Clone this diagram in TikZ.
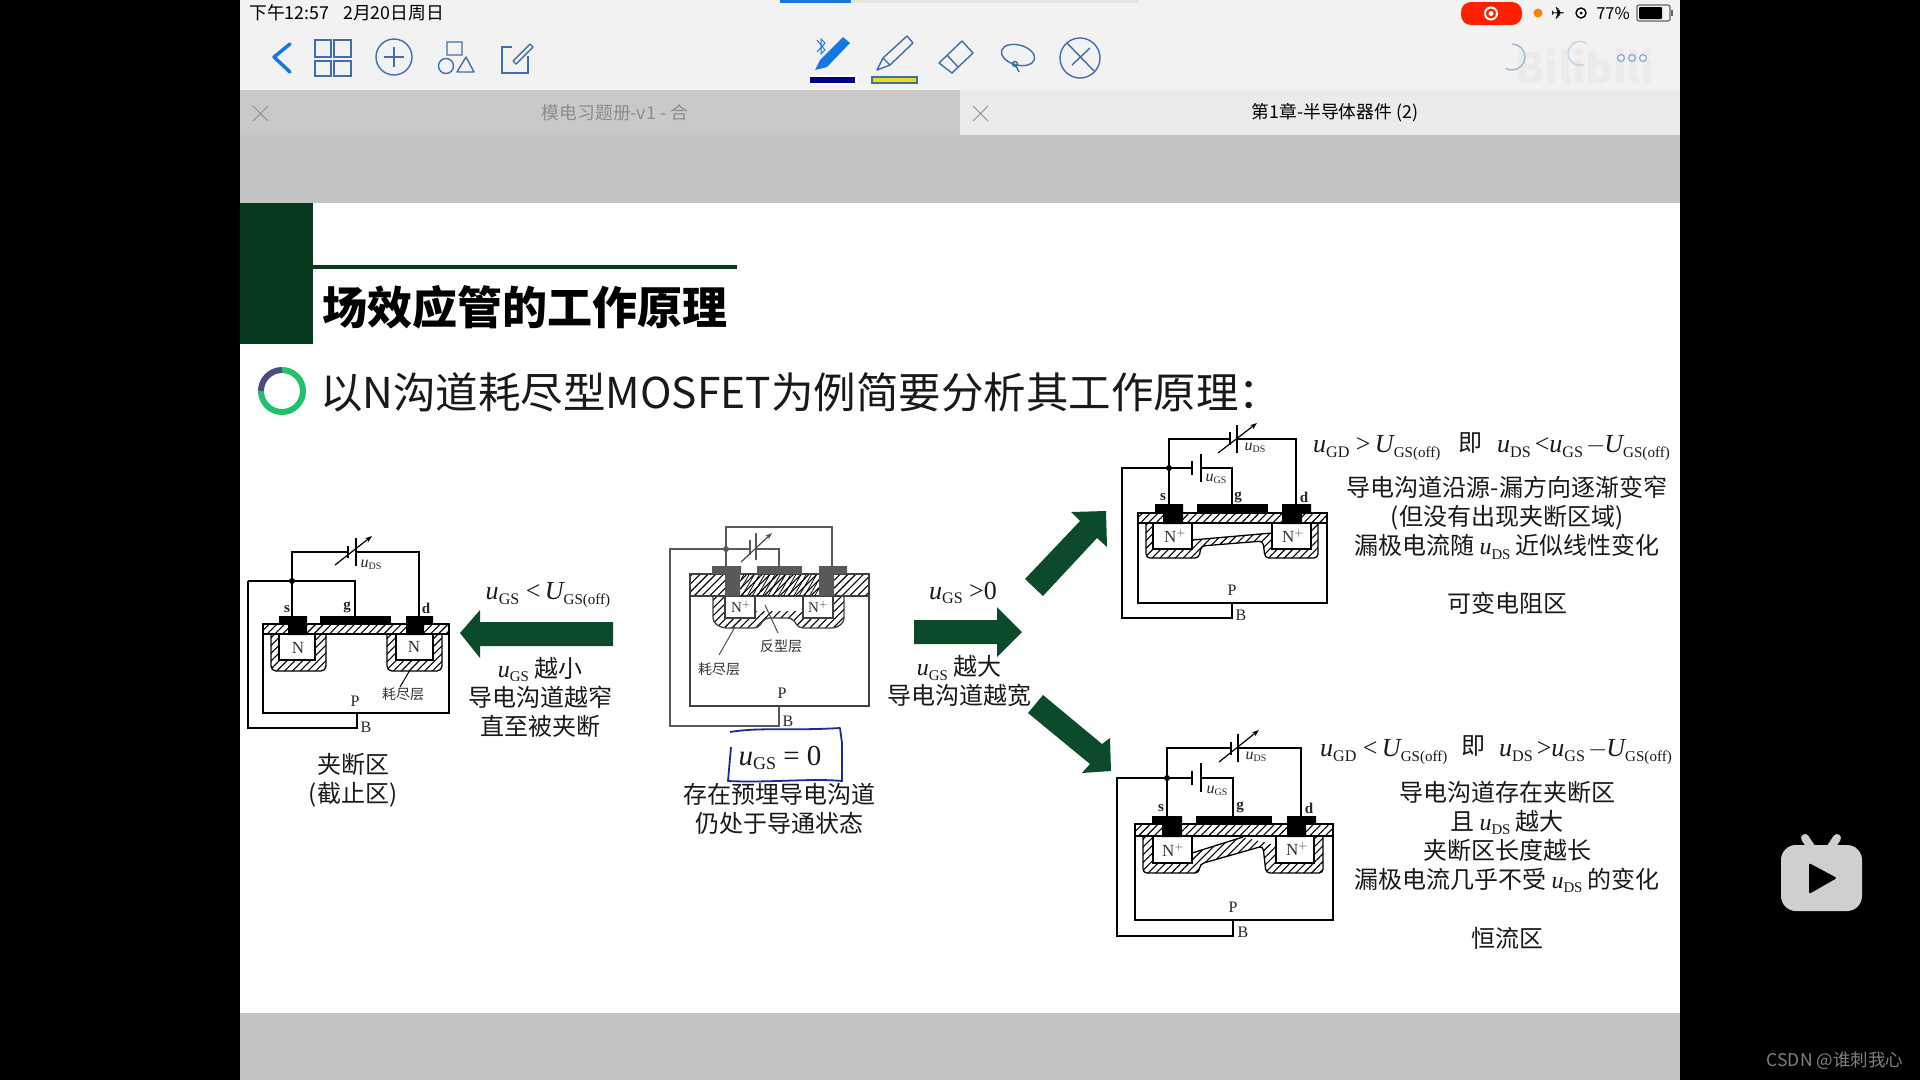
\documentclass[tikz,border=0pt]{standalone}
\usepackage{fontspec}
\setmainfont{Noto Sans CJK SC}
\newfontfamily\devfont{Liberation Serif}
\newfontfamily\symfont{DejaVu Sans}
\usetikzlibrary{patterns.meta,arrows.meta}
\definecolor{slidegreen}{HTML}{0B4A2B}
\definecolor{blockgreen}{HTML}{063A1E}
\definecolor{ringgreen}{HTML}{22C06A}
\definecolor{iconblue}{HTML}{3F6EA8}
\definecolor{penblue}{HTML}{1677E0}
\definecolor{inknavy}{HTML}{1A2A9A}
\newcommand{\usub}[2]{{\devfont\itshape #1}\raisebox{-.35ex}{\scalebox{.62}{\devfont #2}}}
\newcommand{\bigU}{{\devfont\itshape U}\raisebox{-.35ex}{\scalebox{.58}{\devfont GS(off)}}}
\tikzset{
  wire/.style={line width=1.3pt, line join=miter},
  greywire/.style={line width=1.3pt, draw=black!65},
  plate/.style={line width=1.3pt},
  metal/.style={fill=black},
  hatchfill/.style={pattern={Lines[angle=45,distance=5.5pt,line width=1.1pt]}, draw=black, line width=1.3pt},
  boxfill/.style={fill=white, draw=black, line width=1.3pt},
  tunearrow/.style={-{Stealth[length=7pt,width=5pt]}, line width=1.2pt},
  bigarrow/.style={fill=slidegreen},
  icon/.style={draw=iconblue, line width=1.4pt},
  devtext/.style={font=\devfont\bfseries\fontsize{15}{17}\selectfont, inner sep=0pt, text=black!85},
  pbtext/.style={font=\devfont\fontsize{16}{18}\selectfont, inner sep=0pt, text=black!85},
  usmall/.style={font=\devfont\fontsize{16}{18}\selectfont, inner sep=0pt, text=black!85},
  nplus/.style={font=\devfont\fontsize{17}{20}\selectfont, inner sep=0pt, text=black!80},
  cjksmall/.style={font=\fontsize{14}{16}\selectfont, inner sep=0pt, text=black!80},
  bodytext/.style={font=\fontsize{24}{29}\selectfont, align=center, inner sep=0pt, text=black!90},
  formula/.style={font=\devfont\fontsize{26}{30}\selectfont, inner sep=0pt, text=black!90},
  tabtext/.style={font=\fontsize{17.8}{20}\selectfont, inner sep=0pt},
}
\begin{document}
\begin{tikzpicture}[x=1pt, y=-1pt]
\useasboundingbox (0,0) rectangle (1920,1080);
% screen
\fill[black] (0,0) rectangle (1920,1080);
\fill[black!5] (240,0) rectangle (1680,90);
\fill[black!21] (240,90) rectangle (960,135);
\fill[black!8] (960,90) rectangle (1680,135);
\fill[black!23] (240,135) rectangle (1680,1080);
\fill[white] (240,203) rectangle (1680,1013);
% status bar
\fill[black!10] (851,0) rectangle (1139,3);
\fill[penblue] (780,0) rectangle (851,3);
\node[tabtext, anchor=west] (clock) at (249,13) {下午12:57\hspace{14pt}2月20日周日};
\fill[red!75!orange, rounded corners=10pt] (1461,2) rectangle (1522,25);
\draw[white, line width=2pt] (1491,13.5) circle (6);
\fill[white] (1491,13.5) circle (2.5);
\fill[orange] (1538,13) circle (4.5);
\node[tabtext, font=\symfont\fontsize{17}{20}\selectfont] (plane) at (1558,13) {✈};
\draw[line width=1.4pt] (1581,13) circle (5);
\fill (1581,13) circle (1.5);
\node[tabtext, font=\fontsize{16.5}{20}\selectfont] (percent) at (1613,13) {77\%};
\draw[black!60, line width=1.2pt, rounded corners=2pt] (1637,5) rectangle (1670,21);
\fill[black, rounded corners=1pt] (1639,7) rectangle (1662,19);
\fill[black!60] (1671,10) rectangle (1673,16);
% tool bar
\draw[penblue, line width=3.5pt, line cap=round, line join=round] (290,44) -- (274,57) -- (290,72);
\foreach \gx/\gy/\hx/\hy in {315/40/331/57, 334/40/351/57, 315/61/331/76, 334/61/351/76}
  \draw[icon] (\gx,\gy) rectangle (\hx,\hy);
\draw[icon] (394,57) circle (18);
\draw[icon] (384,57) -- (404,57) (394,47) -- (394,67);
\draw[icon] (447,42) rectangle (462,55) (446,66) circle (7.5);
\draw[icon, line join=round] (457,72) -- (474,72) -- (466,57) -- cycle;
\draw[icon] (512,47) -- (502,47) -- (502,73) -- (528,73) -- (528,56);
\draw[icon, line join=round] (513,61) -- (530,44) -- (533,47) -- (516,64) -- cycle;
\fill[penblue] (815,70) -- (820,60) -- (843,37) -- (850,43) -- (827,67) -- cycle;
\draw[penblue, line width=1pt] (817,40) -- (825,50) -- (821,54) -- (821,39) -- (825,43) -- (817,52);
\fill[white] (809,75) rectangle (857,85);
\fill[blue!55!black] (810,77) rectangle (855,83);
\draw[icon, line join=round] (907,36) -- (913,43) -- (890,65) -- (883,58) -- cycle (883,58) -- (877,70) -- (890,65);
\draw[icon, fill=yellow!90!black] (872,77) rectangle (917,83);
\draw[icon, line join=round] (962,41) -- (973,53) -- (952,73) -- (939,63) -- cycle (947,55) -- (958,67);
\draw[icon, rotate around={-15:(1018,55)}] (1018,55) ellipse (17 and 10);
\draw[icon] (1015,64) circle (2.5) -- (1019,72);
\draw[icon] (1080,58) circle (20);
\draw[icon] (1067,43) -- (1094,71) (1072,65) -- (1090,48);
\node[font=\fontsize{42}{46}\selectfont\bfseries, text=black!8, inner sep=0pt] (logo) at (1585,66) {Bilibili};
\draw[iconblue!50, line width=1.4pt] (1512,44) arc (-90:120:13);
\draw[iconblue!30, line width=1.4pt] (1586,43) arc (-60:-290:12);
\foreach \dx in {1621,1632,1643}
  \draw[iconblue!60, line width=1.2pt] (\dx,58) circle (3.5);
% tabs
\draw[black!45, line width=1pt] (253,106) -- (268,121) (268,106) -- (253,121);
\draw[black!45, line width=1pt] (973,106) -- (988,121) (988,106) -- (973,121);
\node[tabtext, text=black!45] (tableft) at (615,113) {模电习题册-v1 - 合};
\node[tabtext, text=black] (tabright) at (1335,113) {第1章-半导体器件 (2)};
% slide heading
\fill[blockgreen] (240,203) rectangle (313,344);
\fill[blockgreen] (313,265) rectangle (737,269);
\node[font=\fontsize{45}{50}\selectfont\bfseries, inner sep=0pt, anchor=west] (title) at (322,307) {场效应管的工作原理};
\draw[ringgreen, line width=6pt] (282,370) arc (-90:180:21);
\draw[black!70!blue!70, line width=6pt] (261,391) arc (180:270:21);
\node[font=\fontsize{42.5}{46}\selectfont, inner sep=0pt, anchor=west, text=black!90] (lead) at (320,392) {以N沟道耗尽型MOSFET为例简要分析其工作原理：};

% cut-off device
\coordinate (as) at (292,616);
\coordinate (ag) at (355,616);
\coordinate (ad) at (419,616);
\coordinate (aj) at (292,581);
\coordinate (ap) at (348,552);
\coordinate (aq) at (356,552);
\coordinate (ab) at (357,713);
\draw[boxfill] (263,624) rectangle (449,713);
\draw[hatchfill, rounded corners=5pt] (271,634) -- (271,671) -- (326,671) -- (326,634);
\draw[hatchfill, rounded corners=5pt] (387,634) -- (387,671) -- (442,671) -- (442,634);
\draw[boxfill] (279,634) rectangle (315,660);
\draw[boxfill] (396,634) rectangle (433,660);
\draw[hatchfill] (263,624) rectangle (449,634);
\fill[metal] (279,616) rectangle (307,624) (288,624) rectangle (307,635);
\fill[metal] (320,616) rectangle (391,624);
\fill[metal] (406,616) rectangle (433,624) (406,624) rectangle (424,635);
\draw[wire] (aj) -- (as);
\draw[wire] (aj) |- (ap);
\draw[wire] (aq) -| (ad);
\draw[wire] (248,581) -- (355,581) -- (ag);
\draw[wire] (248,581) -- (248,728) -| (ab);
\fill (aj) circle (3);
\draw[plate] (348,546) -- (348,558);
\draw[plate] (356,538) -- (356,566);
\draw[tunearrow] (335,565) -- (372,536);
\node[usmall] (auds) at (371,565) {\usub{u}{DS}};
\node[devtext] (asl) at (287,609) {s};
\node[devtext] (agl) at (347,607) {g};
\node[devtext] (adl) at (426,608) {d};
\node[nplus] (an1) at (298,648) {N};
\node[nplus] (an2) at (414,647) {N};
\node[pbtext] (apl) at (355,701) {P};
\node[pbtext] (abl) at (366,727) {B};
\node[cjksmall] (adep) at (403,694) {耗尽层};
\draw[wire, line width=1pt] (410,670) -- (400,687);
\node[bodytext] (acap) at (353,780) {夹断区\\(截止区)};

% left arrow
\fill[bigarrow] (460,633) -- (480,610) -- (480,622) -- (613,622) -- (613,646) -- (480,646) -- (480,658) -- cycle;
\node[formula] (aform) at (548,595) {\usub{u}{GS} <\,\bigU};
\node[bodytext] (atxt) at (540,697) {\usub{u}{GS} 越小\\导电沟道越窄\\直至被夹断};

% device at zero bias
\coordinate (bs) at (726,566);
\coordinate (bg) at (779,566);
\coordinate (bd) at (832,566);
\coordinate (bj) at (726,549);
\coordinate (bp) at (750,549);
\coordinate (bq) at (756,549);
\coordinate (bb) at (779,706);
\draw[boxfill, draw=black!75] (690,574) rectangle (869,706);
\draw[hatchfill, draw=black!75, rounded corners=4pt] (713,596) -- (713,622) -- (722,628) -- (758,628) -- (765,618) -- (792,618) -- (799,628) -- (836,628) -- (844,622) -- (844,596);
\fill[white] (755,596) rectangle (803,611);
\draw[boxfill, draw=black!75] (725,596) rectangle (755,618);
\draw[boxfill, draw=black!75] (803,596) rectangle (833,618);
\draw[hatchfill, draw=black!75] (690,574) rectangle (869,596);
\fill[pattern={Lines[angle=60,distance=4.5pt,line width=.8pt]}] (741,575) rectangle (819,595);
\fill[black!65] (712,566) rectangle (741,574) (725,574) rectangle (740,596);
\fill[black!65] (757,566) rectangle (802,574);
\fill[black!65] (819,566) rectangle (847,574) (819,574) rectangle (834,596);
\draw[greywire] (bj) -- (bs);
\draw[greywire] (bj) -- (726,527) -| (bd);
\draw[greywire] (bj) -- (bp);
\draw[greywire] (bq) -| (bg);
\draw[greywire] (bj) -- (670,549) -- (670,726) -| (bb);
\fill[black!65] (bj) circle (3);
\draw[plate, draw=black!65] (750,540) -- (750,555);
\draw[plate, draw=black!65] (756,533) -- (756,560);
\draw[tunearrow, draw=black!70] (741,562) -- (772,533);
\node[nplus, font=\devfont\fontsize{15}{17}\selectfont] (bn1) at (741,607) {N$^+$};
\node[nplus, font=\devfont\fontsize{15}{17}\selectfont] (bn2) at (818,607) {N$^+$};
\node[cjksmall] (binv) at (781,646) {反型层};
\node[cjksmall] (bdep) at (719,669) {耗尽层};
\draw[wire, draw=black!70, line width=1pt] (765,605) -- (778,633);
\draw[wire, draw=black!70, line width=1pt] (735,627) -- (719,655);
\node[pbtext] (bpl) at (782,693) {P};
\node[pbtext] (bbl) at (788,721) {B};
\draw[inknavy, line width=1.8pt, line join=round] (730,732) .. controls (760,727) and (790,731) .. (840,728) -- (842,743) -- (842,781) .. controls (810,778) and (770,783) .. (728,781) -- (731,747);
\node[formula, font=\devfont\fontsize{29}{32}\selectfont] (bform) at (780,758) {\usub{u}{GS} = 0};
\node[bodytext] (btxt) at (779,809) {存在预埋导电沟道\\仍处于导通状态};

% right arrow and branches
\fill[bigarrow] (914,620) -- (997,620) -- (997,607) -- (1022,632) -- (997,657) -- (997,644) -- (914,644) -- cycle;
\node[formula] (mform) at (963,593) {\usub{u}{GS} >0};
\node[bodytext] (mtxt) at (959,681) {\usub{u}{GS} 越大\\导电沟道越宽};
\fill[bigarrow] (1025,579) -- (1080,521) -- (1071,512) -- (1106,511) -- (1107,547) -- (1097,538) -- (1043,596) -- cycle;
\fill[bigarrow] (1043,695) -- (1102,744) -- (1110,738) -- (1111,771) -- (1082,773) -- (1090,764) -- (1028,713) -- cycle;

% variable resistance device
\coordinate (cs) at (1169,504);
\coordinate (cg) at (1232,504);
\coordinate (cd) at (1296,504);
\coordinate (cj) at (1169,468);
\coordinate (cp) at (1230,439);
\coordinate (cq) at (1237,439);
\coordinate (cr) at (1192,468);
\coordinate (ct) at (1201,468);
\coordinate (cb) at (1232,603);
\draw[boxfill] (1138,513) rectangle (1327,603);
\draw[hatchfill, rounded corners=4pt] (1146,523) -- (1146,558) -- (1199,558) -- (1201,546) -- (1263,541) -- (1265,558) -- (1318,558) -- (1318,523);
\fill[white] (1192,524) -- (1272,524) -- (1272,533) -- (1192,540) -- cycle;
\draw[wire] (1192,540) -- (1272,533);
\draw[boxfill] (1153,523) rectangle (1192,549);
\draw[boxfill] (1272,523) rectangle (1311,549);
\draw[hatchfill] (1138,513) rectangle (1327,523);
\fill[metal] (1155,504) rectangle (1183,513) (1163,513) rectangle (1183,524);
\fill[metal] (1197,504) rectangle (1268,513);
\fill[metal] (1282,504) rectangle (1311,513) (1282,513) rectangle (1302,524);
\draw[wire] (cj) -- (cs);
\draw[wire] (cj) |- (cp);
\draw[wire] (cq) -| (cd);
\draw[wire] (cj) -- (cr);
\draw[wire] (ct) -| (cg);
\draw[wire] (cj) -- (1122,468) -- (1122,618) -| (cb);
\fill (cj) circle (3);
\draw[plate] (1230,432) -- (1230,445);
\draw[plate] (1237,425) -- (1237,453);
\draw[tunearrow] (1218,453) -- (1257,423);
\node[usmall] (cuds) at (1255,448) {\usub{u}{DS}};
\draw[plate] (1192,461) -- (1192,475);
\draw[plate] (1201,454) -- (1201,482);
\node[usmall] (cugs) at (1216,479) {\usub{u}{GS}};
\node[devtext] (csl) at (1163,497) {s};
\node[devtext] (cgl) at (1238,497) {g};
\node[devtext] (cdl) at (1304,497) {d};
\node[nplus] (cn1) at (1175,536) {N$^+$};
\node[nplus] (cn2) at (1293,536) {N$^+$};
\node[pbtext] (cpl) at (1232,590) {P};
\node[pbtext] (cbl) at (1241,615) {B};
\node[formula, anchor=west] (cform1) at (1313,448) {\usub{u}{GD} >\,\bigU};
\node[bodytext, anchor=center] (cji) at (1470,443) {即};
\node[formula, anchor=west] (cform2) at (1497,448) {\usub{u}{DS}\hspace{4pt}<\usub{u}{GS}\hspace{3pt}$-$\hspace{-1pt}\bigU};
\node[bodytext] (ctxt) at (1507,518) {导电沟道沿源-漏方向逐渐变窄\\(但没有出现夹断区域)\\漏极电流随 \usub{u}{DS} 近似线性变化};
\node[bodytext] (ccap) at (1507,603) {可变电阻区};

% constant current device
\coordinate (ds) at (1167,816);
\coordinate (dg) at (1233,816);
\coordinate (dd) at (1301,816);
\coordinate (dj) at (1167,778);
\coordinate (dp) at (1231,748);
\coordinate (dq) at (1238,748);
\coordinate (dr) at (1192,778);
\coordinate (dt) at (1201,778);
\coordinate (db) at (1233,920);
\draw[boxfill] (1135,824) rectangle (1333,920);
\draw[hatchfill, rounded corners=4pt] (1143,836) -- (1143,873) -- (1199,873) -- (1200,864) -- (1263,846) -- (1266,873) -- (1323,873) -- (1323,836);
\fill[white] (1192,837) -- (1276,837) -- (1276,845) -- (1243,837) -- (1192,853) -- cycle;
\draw[wire] (1192,853) -- (1243,837);
\draw[boxfill] (1153,836) rectangle (1192,863);
\draw[boxfill] (1276,836) rectangle (1314,863);
\draw[hatchfill] (1135,824) rectangle (1333,836);
\fill[metal] (1152,816) rectangle (1182,824) (1162,824) rectangle (1182,837);
\fill[metal] (1196,816) rectangle (1272,824);
\fill[metal] (1287,816) rectangle (1316,824) (1287,824) rectangle (1306,837);
\draw[wire] (dj) -- (ds);
\draw[wire] (dj) |- (dp);
\draw[wire] (dq) -| (dd);
\draw[wire] (dj) -- (dr);
\draw[wire] (dt) -| (dg);
\draw[wire] (dj) -- (1117,778) -- (1117,936) -| (db);
\fill (dj) circle (3);
\draw[plate] (1231,742) -- (1231,755);
\draw[plate] (1238,734) -- (1238,762);
\draw[tunearrow] (1219,762) -- (1259,730);
\node[usmall] (duds) at (1256,757) {\usub{u}{DS}};
\draw[plate] (1192,771) -- (1192,785);
\draw[plate] (1201,763) -- (1201,792);
\node[usmall] (dugs) at (1217,791) {\usub{u}{GS}};
\node[devtext] (dsl) at (1161,808) {s};
\node[devtext] (dgl) at (1240,807) {g};
\node[devtext] (ddl) at (1309,808) {d};
\node[nplus] (dn1) at (1173,850) {N$^+$};
\node[nplus] (dn2) at (1297,849) {N$^+$};
\node[pbtext] (dpl) at (1233,907) {P};
\node[pbtext] (dbl) at (1243,932) {B};
\node[formula, anchor=west] (dform1) at (1320,752) {\usub{u}{GD} <\,\bigU};
\node[bodytext, anchor=center] (dji) at (1473,746) {即};
\node[formula, anchor=west] (dform2) at (1499,752) {\usub{u}{DS}\hspace{4pt}>\usub{u}{GS}\hspace{3pt}$-$\hspace{-1pt}\bigU};
\node[bodytext] (dtxt) at (1507,837) {导电沟道存在夹断区\\且 \usub{u}{DS} 越大\\夹断区长度越长\\漏极电流几乎不受 \usub{u}{DS} 的变化};
\node[bodytext] (dcap) at (1507,938) {恒流区};

% overlay on the right margin
\fill[black!19, rounded corners=15pt] (1781,845) rectangle (1862,911);
\draw[black!19, line width=8pt, line cap=round] (1805,838) -- (1813,850) (1837,838) -- (1829,850);
\fill[black, rounded corners=2pt] (1809,863) -- (1837,878) -- (1809,894) -- cycle;
\node[tabtext, font=\fontsize{17.5}{20}\selectfont, text=black!50] (csdn) at (1835,1061) {CSDN @谁刺我心};
\end{tikzpicture}
\end{document}
